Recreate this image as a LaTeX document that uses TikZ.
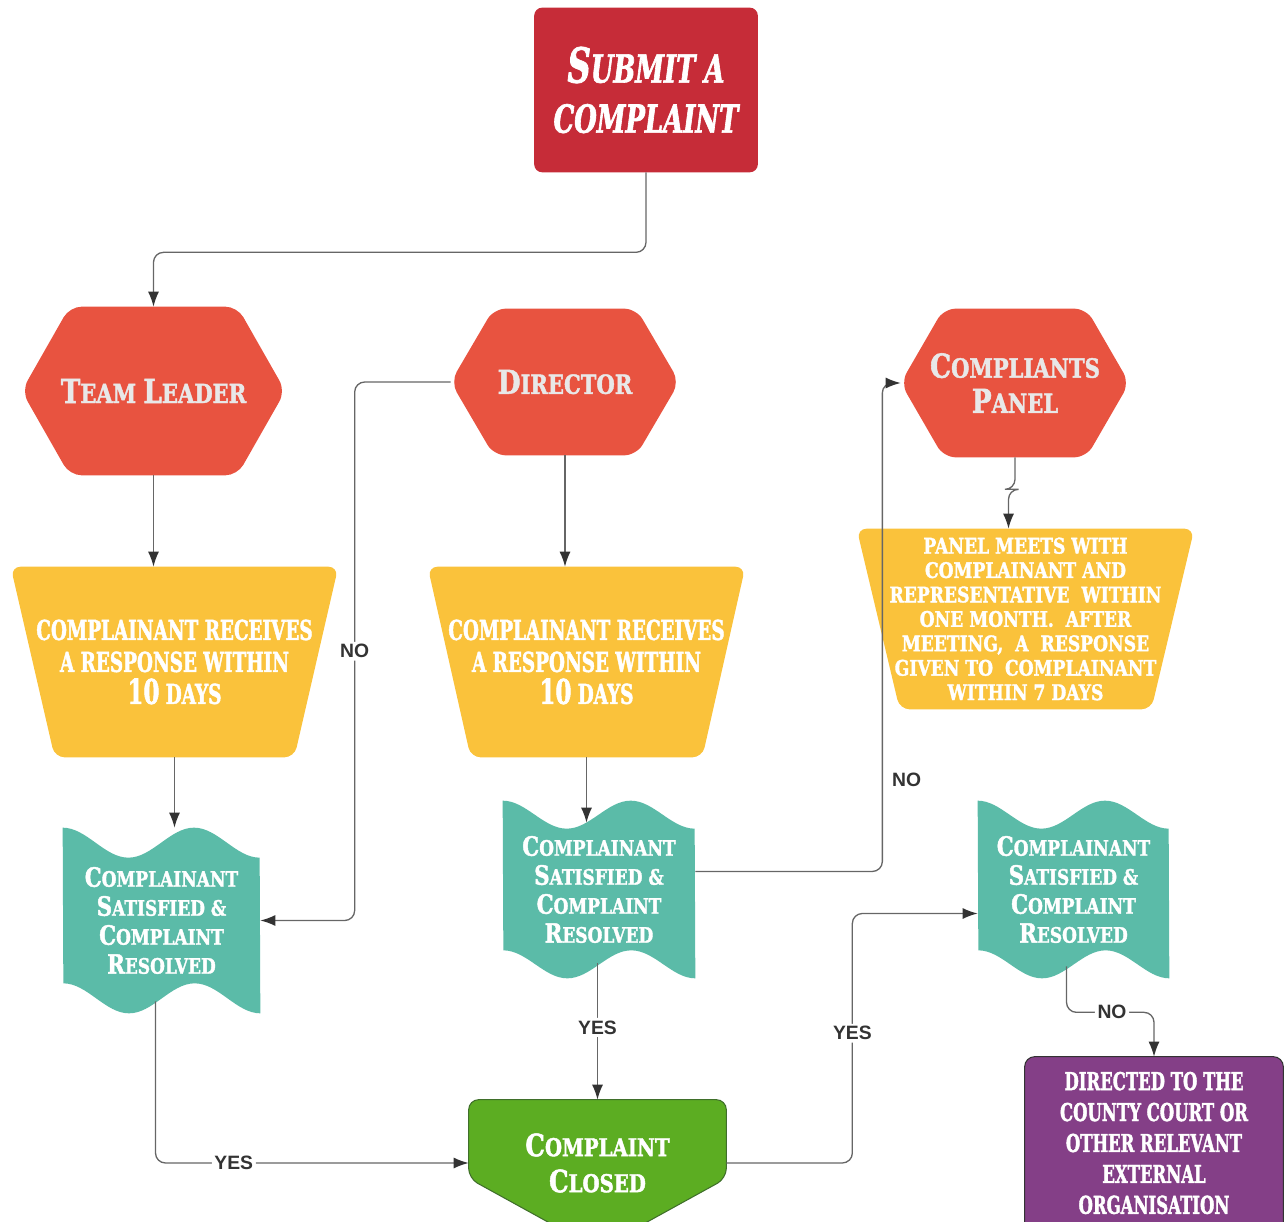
\documentclass[tikz,border=0pt]{standalone}
\usepackage{fontspec}
\usepackage{graphicx}
\usetikzlibrary{arrows.meta,calc}
\newfontfamily\boxfont{DejaVu Serif Bold}[FakeStretch=0.67,FakeBold=1.6,ItalicFont={DejaVu Serif Bold Italic}]
\newfontfamily\capsfont{DejaVu Serif Bold}[FakeStretch=0.8,FakeBold=1.6]
\newfontfamily\lblfont{Liberation Sans}
\definecolor{subred}{HTML}{C62C38}
\definecolor{hexred}{HTML}{E85340}
\definecolor{hextext}{HTML}{E8E8E8}
\definecolor{yel}{HTML}{FAC23B}
\definecolor{wavegreen}{HTML}{5BBBA8}
\definecolor{grn}{HTML}{5CAD22}
\definecolor{grnline}{HTML}{3F6F2A}
\definecolor{purp}{HTML}{843F87}
\definecolor{purpline}{HTML}{333333}
\definecolor{linegray}{HTML}{666666}
\definecolor{tipgray}{HTML}{333333}
\definecolor{lblgray}{HTML}{333333}
\pgfdeclarelayer{bg}
\pgfsetlayers{bg,main}
\def\hexa#1#2{(#1.west) -- ([xshift=#2]#1.north west) -- ([xshift=-#2]#1.north east) -- (#1.east) -- ([xshift=-#2]#1.south east) -- ([xshift=#2]#1.south west) -- cycle}
\def\trap#1#2{(#1.north west) -- (#1.north east) -- ([xshift=-#2]#1.south east) -- ([xshift=#2]#1.south west) -- cycle}
\def\wave#1#2#3{(#1.north west) cos ++({#2/6},-#3) sin ++({#2/6},-#3) cos ++({#2/6},#3) sin ++({#2/6},#3) cos ++({#2/6},-#3) sin ++({#2/6},-#3) -- (#1.south east) cos ++({-#2/6},#3) sin ++({-#2/6},#3) cos ++({-#2/6},-#3) sin ++({-#2/6},-#3) cos ++({-#2/6},#3) sin ++({-#2/6},#3) -- cycle}
\newcommand\ini[1]{\scalebox{1.25}{#1}}

\begin{document}
\begin{tikzpicture}[x=0.02cm,y=0.02cm,
  box/.style={inner sep=0pt,align=center,text=white},
  conn/.style={draw=linegray,line width=0.75pt,rounded corners=0.2cm,-{Latex[length=0.3cm,width=0.22cm,color=tipgray]}},
  lbl/.style={font=\lblfont\bfseries\fontsize{11}{11}\selectfont,text=lblgray,fill=white,inner sep=1.5pt}]
\useasboundingbox (0,0) rectangle (1288,-1222);

% boxes
\node[box,minimum width=4.46cm,minimum height=3.28cm,font=\boxfont\itshape\fontsize{22}{28.5}\selectfont] (submit) at (646,-90) {\ini{S}UBMIT A\\COMPLAINT};
\node[box,text=hextext,minimum width=5.26cm,minimum height=3.36cm,font=\capsfont\fontsize{15}{20}\selectfont] (tl) at (153.5,-391) {\ini{T}EAM \ini{L}EADER};
\node[box,text=hextext,minimum width=4.56cm,minimum height=2.92cm,font=\capsfont\fontsize{15}{20}\selectfont] (dir) at (565,-382) {\ini{D}IRECTOR};
\node[box,text=hextext,minimum width=4.56cm,minimum height=2.96cm,font=\capsfont\fontsize{15}{20}\selectfont] (panel) at (1015,-383) {\ini{C}OMPLIANTS\\\ini{P}ANEL};
\node[box,minimum width=6.54cm,minimum height=3.8cm,font=\boxfont\fontsize{15.6}{18.2}\selectfont] (trap1) at (174.5,-662) {COMPLAINANT RECEIVES\\A RESPONSE WITHIN\\\ini{10} DAYS};
\node[box,minimum width=6.34cm,minimum height=3.8cm,font=\boxfont\fontsize{15.6}{18.2}\selectfont] (trap2) at (586.5,-662) {COMPLAINANT RECEIVES\\A RESPONSE WITHIN\\\ini{10} DAYS};
\node[box,minimum width=6.74cm,minimum height=3.6cm,font=\capsfont\fontsize{12.2}{13.9}\selectfont] (trap3) at (1025.5,-619) {PANEL MEETS WITH\\COMPLAINANT AND\\REPRESENTATIVE~~WITHIN\\ONE MONTH.~~AFTER\\MEETING,~~A~~RESPONSE\\GIVEN TO~~COMPLAINANT\\WITHIN 7 DAYS};
\node[box,minimum width=3.94cm,minimum height=3.7cm,font=\capsfont\fontsize{12.1}{16.5}\selectfont] (wave1) at (161.5,-920.5) {\ini{C}OMPLAINANT\\\ini{S}ATISFIED \&\\\ini{C}OMPLAINT\\\ini{R}ESOLVED};
\node[box,minimum width=3.84cm,minimum height=3.54cm,font=\capsfont\fontsize{12.1}{16.5}\selectfont] (wave2) at (599,-889.5) {\ini{C}OMPLAINANT\\\ini{S}ATISFIED \&\\\ini{C}OMPLAINT\\\ini{R}ESOLVED};
\node[box,minimum width=3.82cm,minimum height=3.54cm,font=\capsfont\fontsize{12.1}{16.5}\selectfont] (wave3) at (1073.5,-889.5) {\ini{C}OMPLAINANT\\\ini{S}ATISFIED \&\\\ini{C}OMPLAINT\\\ini{R}ESOLVED};
\node[box,minimum width=5.14cm,minimum height=2.52cm,font=\capsfont\fontsize{14}{20.5}\selectfont] (green) at (597.5,-1163) {\ini{C}OMPLAINT\\\ini{C}LOSED};
\node[box,minimum width=5.16cm,minimum height=3.44cm,font=\boxfont\fontsize{14}{17.6}\selectfont] (purple) at (1154,-1143) {DIRECTED TO THE\\COUNTY COURT OR\\OTHER RELEVANT\\EXTERNAL\\ORGANISATION};

\begin{pgfonlayer}{bg}
\fill[subred,rounded corners=0.16cm] (submit.south west) rectangle (submit.north east);
\fill[hexred,rounded corners=0.24cm] \hexa{tl}{0.96cm};
\fill[hexred,rounded corners=0.24cm] \hexa{dir}{0.86cm};
\fill[hexred,rounded corners=0.24cm] \hexa{panel}{0.86cm};
\fill[yel,rounded corners=0.2cm] \trap{trap1}{0.88cm};
\fill[yel,rounded corners=0.2cm] \trap{trap2}{0.86cm};
\fill[yel,rounded corners=0.2cm] \trap{trap3}{0.86cm};
\fill[wavegreen] \wave{wave1}{197}{15};
\fill[wavegreen] \wave{wave2}{192}{14};
\fill[wavegreen] \wave{wave3}{191}{14};
\filldraw[grn,draw=grnline,line width=0.6pt,rounded corners=0.2cm] ([yshift=0.96cm]green.south west) -- ([yshift=-0.46cm]green.south) -- ([yshift=0.96cm]green.south east) -- (green.north east) -- (green.north west) -- cycle;
\filldraw[purp,draw=purpline,line width=0.6pt,rounded corners=0.2cm] (purple.north west) rectangle ([yshift=-1cm]purple.south east);
\end{pgfonlayer}

% connectors
\draw[conn] (submit.south) -- ++(0,-80) -| (tl.north);
\draw[conn] (tl.south) -- (tl.south |- trap1.north);
\draw[conn] (trap1.south) -- (trap1.south |- wave1.north);
\draw[conn] (dir.west) -- ++(-96,0) |- node[lbl,pos=0.25] {NO} (wave1.east);
\draw[conn] (dir.south) -- (dir.south |- trap2.north);
\draw[conn] (trap2.south) -- ($(trap2.south |- wave2.north)+(0,-22)$);
\draw[conn] ($(wave2.east)+(0,18)$) -- ++(187,0) |- node[lbl,fill=none,anchor=west,pos=0.094,xshift=0.13cm] {NO} (panel.west);
\draw[conn] (panel.south) -- ++(0,-32) -| ($(trap3.north)+(-17,0)$);
\draw[conn] ($(wave1.south)+(-6,12)$) |- node[lbl,pos=0.625] {YES} (green.west);
\draw[conn] ($(green.north |- wave2.south)+(0,15)$) -- node[lbl,pos=0.47] {YES} (green.north);
\draw[conn] (green.east) -- ++(126,0) |- node[lbl,pos=0.26] {YES} ($(wave3.west)+(0,-24)$);
\draw[conn] ($(wave3.south)+(-7,12)$) -- ++(0,-46) -| node[lbl,pos=0.26] {NO} (purple.north);
\end{tikzpicture}
\end{document}
